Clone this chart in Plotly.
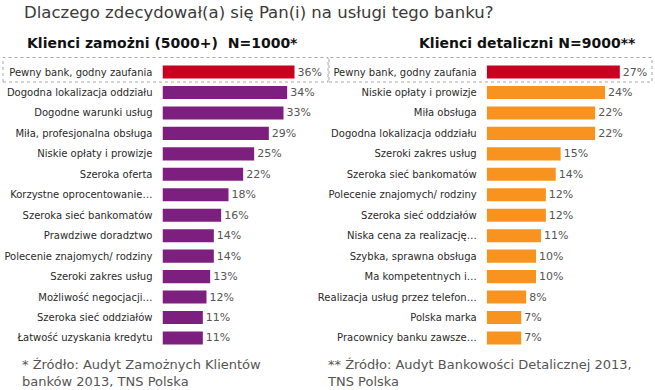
import plotly.graph_objects as go

W, H = 655, 390

left_categories = [
    "Pewny bank, godny zaufania",
    "Dogodna lokalizacja oddziału",
    "Dogodne warunki usług",
    "Miła, profesjonalna obsługa",
    "Niskie opłaty i prowizje",
    "Szeroka oferta",
    "Korzystne oprocentowanie…",
    "Szeroka sieć bankomatów",
    "Prawdziwe doradztwo",
    "Polecenie znajomych/ rodziny",
    "Szeroki zakres usług",
    "Możliwość negocjacji…",
    "Szeroka sieć oddziałów",
    "Łatwość uzyskania kredytu",
]
left_values = [36, 34, 33, 29, 25, 22, 18, 16, 14, 14, 13, 12, 11, 11]

right_categories = [
    "Pewny bank, godny zaufania",
    "Niskie opłaty i prowizje",
    "Miła obsługa",
    "Dogodna lokalizacja oddziału",
    "Szeroki zakres usług",
    "Szeroka sieć bankomatów",
    "Polecenie znajomych/ rodziny",
    "Szeroka sieć oddziałów",
    "Niska cena za realizację…",
    "Szybka, sprawna obsługa",
    "Ma kompetentnych i…",
    "Realizacja usług przez telefon…",
    "Polska marka",
    "Pracownicy banku zawsze…",
]
right_values = [27, 24, 22, 22, 15, 14, 12, 12, 11, 10, 10, 8, 7, 7]

title_text = "Dlaczego zdecydował(a) się Pan(i) na usługi tego banku?"
left_heading = "Klienci zamożni (5000+)  N=1000*"
right_heading = "Klienci detaliczni N=9000**"
left_source = "* Źródło: Audyt Zamożnych Klientów<br>banków 2013, TNS Polska"
right_source = "** Źródło: Audyt Bankowości Detalicznej 2013,<br>TNS Polska"

RED = "#C9001F"
PURPLE = "#7D1F7F"
ORANGE = "#F7931E"
FONT = "DejaVu Sans"


def px_x(p):
    return p / W


def px_y(p):
    return 1 - p / H


fig = go.Figure()

left_colors = [RED] + [PURPLE] * (len(left_values) - 1)
right_colors = [RED] + [ORANGE] * (len(right_values) - 1)

fig.add_trace(go.Bar(
    x=left_values, y=left_categories, orientation="h",
    marker=dict(color=left_colors, line=dict(width=0)),
    text=[f"{v}%" for v in left_values], textposition="outside",
    textfont=dict(family=FONT, size=11, color="#555555"),
    cliponaxis=False, xaxis="x", yaxis="y", width=0.64,
    hoverinfo="skip",
))
fig.add_trace(go.Bar(
    x=right_values, y=right_categories, orientation="h",
    marker=dict(color=right_colors, line=dict(width=0)),
    text=[f"{v}%" for v in right_values], textposition="outside",
    textfont=dict(family=FONT, size=11, color="#555555"),
    cliponaxis=False, xaxis="x2", yaxis="y2", width=0.64,
    hoverinfo="skip",
))

ytop, ybot = 61.8, 348.2
common_x = dict(showgrid=False, zeroline=False, showticklabels=False, showline=False, fixedrange=True)
common_y = dict(type="category", autorange="reversed", showgrid=False, zeroline=False,
                showline=False, ticks="", ticklabelstandoff=9, fixedrange=True,
                tickfont=dict(family=FONT, size=10, color="#2A2A2A"))

fig.update_layout(
    width=W, height=H,
    margin=dict(l=0, r=0, t=0, b=0),
    paper_bgcolor="white", plot_bgcolor="rgba(0,0,0,0)",
    showlegend=False,
    font=dict(family=FONT),
    xaxis=dict(domain=[px_x(162.5), px_x(327.5)], range=[0, 45], anchor="y", **common_x),
    xaxis2=dict(domain=[px_x(486.7), px_x(649.4)], range=[0, 33], anchor="y2", **common_x),
    yaxis=dict(domain=[px_y(ybot), px_y(ytop)], anchor="x", **common_y),
    yaxis2=dict(domain=[px_y(ybot), px_y(ytop)], anchor="x2", **common_y),
)

# dashed highlight boxes
box_style = dict(color="#A8A8A8", width=1, dash="dot")
fig.add_shape(type="rect", xref="paper", yref="paper",
              x0=px_x(3), x1=px_x(328), y0=px_y(82), y1=px_y(57.5), line=box_style)
fig.add_shape(type="rect", xref="paper", yref="paper",
              x0=px_x(329), x1=px_x(652), y0=px_y(82), y1=px_y(57.5), line=box_style)

ann = []
ann.append(dict(text=title_text, x=px_x(22), y=px_y(12), xanchor="left", yanchor="middle",
                font=dict(family=FONT, size=16.5, color="#3A3A3A")))
ann.append(dict(text=f"<b>{left_heading}</b>", x=px_x(25), y=px_y(43), xanchor="left", yanchor="middle",
                font=dict(family=FONT, size=14, color="#111111")))
ann.append(dict(text=f"<b>{right_heading}</b>", x=px_x(417), y=px_y(43), xanchor="left", yanchor="middle",
                font=dict(family=FONT, size=14, color="#111111")))
ann.append(dict(text=left_source, x=px_x(20), y=px_y(373), xanchor="left", yanchor="middle", align="left",
                font=dict(family=FONT, size=13, color="#555555")))
ann.append(dict(text=right_source, x=px_x(325), y=px_y(373), xanchor="left", yanchor="middle", align="left",
                font=dict(family=FONT, size=13, color="#555555")))
for a in ann:
    a.update(xref="paper", yref="paper", showarrow=False)
fig.update_layout(annotations=ann)

fig.write_html("out.html", config={"displayModeBar": False},
               post_script="document.body.style.margin='0';document.body.style.overflow='hidden';")
